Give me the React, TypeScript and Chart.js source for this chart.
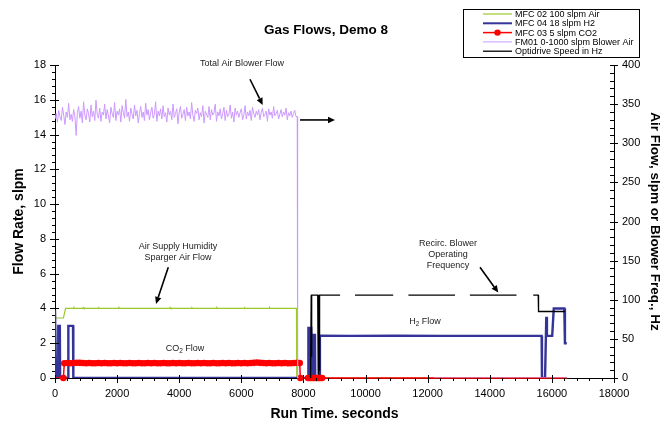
import React, { useEffect, useRef } from "react";
import { Chart, registerables } from "chart.js";

Chart.register(...registerables);

const FONT = "'Liberation Sans', Arial, Helvetica, sans-serif";

// ---------- axes ----------
const xMin = 0;
const xMax = 18000;
const xMajorStep = 2000;
const xMinorStep = 400;
const yLeftMin = 0;
const yLeftMax = 18;
const yLeftMajorStep = 2;
const yLeftMinorStep = 0.4;
const yRightMin = 0;
const yRightMax = 400;
const yRightMajorStep = 50;
const yRightMinorStep = 10;

const chartTitle = "Gas Flows, Demo 8";
const xTitle = "Run Time. seconds";
const yLeftTitle = "Flow Rate, slpm";
const yRightTitle = "Air Flow, slpm or Blower Freq., Hz";

const seriesNames = [
  "MFC 02 100 slpm Air",
  "MFC 04 18 slpm H2",
  "MFC 03 5 slpm CO2",
  "FM01 0-1000 slpm Blower Air",
  "Optidrive Speed in Hz",
];

// ---------- data (time in s, value) ----------
// MFC 02 air (left axis, slpm)
const airPoints: [number, number][] = [
  [0, 3.45], [270, 3.45], [340, 4.0], [600, 4.0], [610, 4.05], [630, 4.0],
  [900, 4.0], [910, 4.05], [930, 4.0], [1400, 4.0], [1410, 4.04], [1430, 4.0],
  [2050, 4.0], [2060, 4.05], [2080, 4.0], [2900, 4.0], [2910, 4.03], [2930, 4.0],
  [3700, 4.0], [3710, 4.05], [3730, 4.0], [4400, 4.0], [4410, 4.04], [4430, 4.0],
  [5200, 4.0], [5210, 4.05], [5230, 4.0], [6100, 4.0], [6110, 4.04], [6130, 4.0],
  [6900, 4.0], [6910, 4.05], [6930, 4.0], [7775, 4.0], [7785, 0], [16480, 0],
];

// MFC 04 H2 (left axis, slpm)
const h2Points: [number, number][] = [
  [0, 3.9], [25, 3.9], [35, 0], [100, 0], [105, 3.0], [155, 3.0], [165, 0],
  [420, 0], [430, 3.0], [580, 3.0], [590, 0], [8150, 0], [8160, 2.95],
  [8190, 0.2], [8200, 2.95], [8240, 0.1], [8250, 2.95], [8280, 0], [8310, 0],
  [8315, 2.47], [8370, 2.47], [8380, 0], [8520, 0], [8530, 2.43], [9500, 2.42],
  [11000, 2.43], [12500, 2.42], [14000, 2.42], [15670, 2.42], [15680, 0],
  [15780, 0], [15820, 3.52], [15840, 2.42], [16010, 2.42], [16060, 4.0],
  [16400, 4.0], [16420, 2.0], [16480, 2.0],
];

// MFC 03 CO2 (left axis, slpm)
const co2HeadPoints: [number, number][] = [[0, 0], [270, 0]];
const co2BandStart = 300;
const co2BandStep = 100;
const co2BandValues = [
  0.85, 0.86, 0.85, 0.86, 0.88, 0.87, 0.86, 0.85, 0.86, 0.85,
  0.85, 0.86, 0.85, 0.86, 0.85, 0.85, 0.86, 0.85, 0.86, 0.85,
  0.85, 0.86, 0.85, 0.85, 0.86, 0.85, 0.85, 0.86, 0.85, 0.86,
  0.85, 0.85, 0.86, 0.85, 0.85, 0.86, 0.85, 0.86, 0.85, 0.85,
  0.86, 0.85, 0.85, 0.86, 0.85, 0.86, 0.85, 0.85, 0.86, 0.85,
  0.85, 0.86, 0.85, 0.86, 0.85, 0.85, 0.86, 0.85, 0.86, 0.85,
  0.86, 0.87, 0.89, 0.87, 0.86, 0.85, 0.86, 0.85, 0.85, 0.86,
  0.85, 0.86, 0.85, 0.85, 0.86, 0.87,
];
const co2TailPoints: [number, number][] = [
  [7880, 0.86], [7900, 0], [8150, 0], [8200, 0], [8250, 0], [8300, 0],
  [8350, 0], [8400, 0], [8450, 0], [8500, 0], [8550, 0], [8600, 0],
  [9000, 0], [16480, 0],
];

// FM01 blower air (right axis, slpm), sampled every 40 s from 0 s
const blowerStart = 0;
const blowerStep = 40;
const blowerValues = [
  331, 338, 327, 342, 334, 329, 346, 336, 324, 340, 333, 351, 330, 337, 328,
  343, 335, 310, 339, 347, 332, 341, 326, 353, 336, 330, 344, 338, 327, 349,
  334, 341, 329, 355, 337, 332, 345, 328, 340, 336, 350, 331, 343, 335, 326,
  346, 338, 333, 352, 329, 341, 336, 344, 327, 348, 339, 332, 356, 334, 340,
  328, 345, 337, 331, 349, 335, 342, 326, 338, 347, 333, 340, 329, 351, 336,
  343, 330, 339, 346, 332, 337, 353, 328, 341, 335, 344, 331, 348, 334, 339,
  327, 345, 336, 341, 330, 350, 333, 338, 344, 325, 340, 347, 332, 337, 343,
  329, 346, 335, 340, 331, 352, 336, 328, 342, 338, 345, 330, 339, 334, 348,
  326, 341, 337, 333, 347, 330, 343, 336, 339, 350, 328, 340, 335, 344, 331,
  338, 346, 329, 342, 334, 337, 349, 332, 340, 327, 345, 336, 341, 333, 339,
  344, 330, 336, 348, 331, 340, 335, 342, 329, 346, 338, 333, 341, 336, 343,
  330, 339, 345, 334, 337, 341, 328, 344, 336, 340, 332, 347, 335, 338, 342,
  331, 337, 343, 334, 340, 336, 345, 330, 339, 335, 341, 333, 338, 342, 334,
];
const blowerTailPoints: [number, number | null][] = [
  [7800, 334], [7812, 0], [7840, 0], [7850, null], [12200, 0], [16480, 0],
];

// Optidrive speed (right axis, Hz)
const optidrivePoints: [number, number | null][] = [
  [8230, 0], [8250, 106], [8260, 27], [8270, 106], [8460, 106], [8475, 5],
  [8490, 106], [8505, 10], [8520, 106], [9180, 106], [9400, null],
  [9660, 106], [10890, 106], [11100, null], [11380, 106], [12880, 106],
  [13100, null], [13360, 106], [14860, 106], [15100, null], [15400, 106],
  [15560, 106], [15570, 85], [16420, 85],
];

// ---------- annotations (data coords on x / left axis) ----------
type Part = { t: string; sub?: boolean };
const annotationTexts: { parts: Part[][]; x: number; y: number }[] = [
  { parts: [[{ t: "Total Air Blower Flow" }]], x: 6021, y: 18.06 },
  { parts: [[{ t: "Air Supply Humidity" }], [{ t: "Sparger Air Flow" }]], x: 3961, y: 7.59 },
  { parts: [[{ t: "CO" }, { t: "2", sub: true }, { t: " Flow" }]], x: 4186, y: 1.67 },
  { parts: [[{ t: "Recirc. Blower" }], [{ t: "Operating" }], [{ t: "Frequency" }]], x: 12655, y: 7.75 },
  { parts: [[{ t: "H" }, { t: "2", sub: true }, { t: " Flow" }]], x: 11914, y: 3.24 },
];
const annotationArrows: { from: [number, number]; to: [number, number] }[] = [
  { from: [6279, 17.18], to: [6688, 15.7] },
  { from: [7889, 14.84], to: [9016, 14.84] },
  { from: [3648, 6.37], to: [3252, 4.26] },
  { from: [13685, 6.37], to: [14274, 4.91] },
];

const toXY = (pts: [number, number | null][]) => pts.map(([x, y]) => ({ x, y }));

function buildBlower() {
  const pts = blowerValues.map((v, i) => ({ x: blowerStart + i * blowerStep, y: v as number | null }));
  return pts.concat(toXY(blowerTailPoints));
}
function buildCo2() {
  const band = co2BandValues.map((v, i) => ({ x: co2BandStart + i * co2BandStep, y: v }));
  return toXY(co2HeadPoints).concat(band, toXY(co2TailPoints));
}

function drawParts(ctx: CanvasRenderingContext2D, parts: Part[], cx: number, cy: number) {
  const main = `9px ${FONT}`;
  const sub = `6.5px ${FONT}`;
  let w = 0;
  for (const p of parts) {
    ctx.font = p.sub ? sub : main;
    w += ctx.measureText(p.t).width;
  }
  let x = cx - w / 2;
  ctx.textAlign = "left";
  ctx.textBaseline = "middle";
  for (const p of parts) {
    ctx.font = p.sub ? sub : main;
    ctx.fillText(p.t, x, p.sub ? cy + 2.5 : cy);
    x += ctx.measureText(p.t).width;
  }
}

function drawArrow(ctx: CanvasRenderingContext2D, x1: number, y1: number, x2: number, y2: number) {
  const ang = Math.atan2(y2 - y1, x2 - x1);
  const head = 7;
  const half = 3.2;
  const bx = x2 - head * Math.cos(ang);
  const by = y2 - head * Math.sin(ang);
  ctx.beginPath();
  ctx.moveTo(x1, y1);
  ctx.lineTo(bx, by);
  ctx.stroke();
  ctx.beginPath();
  ctx.moveTo(x2, y2);
  ctx.lineTo(bx + half * Math.sin(ang), by - half * Math.cos(ang));
  ctx.lineTo(bx - half * Math.sin(ang), by + half * Math.cos(ang));
  ctx.closePath();
  ctx.fill();
}

const decorPlugin = {
  id: "decor",
  afterDatasetsDraw(chart: any) {
    const { ctx, chartArea: a, scales } = chart;
    const xs = scales.x;
    const yl = scales.y;
    const yr = scales.y1;
    ctx.save();
    ctx.strokeStyle = "#000";
    ctx.lineWidth = 1;
    const seg = (x1: number, y1: number, x2: number, y2: number) => {
      ctx.beginPath();
      ctx.moveTo(x1, y1);
      ctx.lineTo(x2, y2);
      ctx.stroke();
    };
    // bottom ticks
    const nx = Math.round((xMax - xMin) / xMinorStep);
    const xr = Math.round(xMajorStep / xMinorStep);
    for (let i = 0; i <= nx; i++) {
      const px = Math.round(xs.getPixelForValue(xMin + i * xMinorStep)) + 0.5;
      const major = i % xr === 0;
      seg(px, a.bottom - (major ? 3 : 0), px, a.bottom + (major ? 5 : 3));
    }
    // left ticks
    const nl = Math.round((yLeftMax - yLeftMin) / yLeftMinorStep);
    const lr = Math.round(yLeftMajorStep / yLeftMinorStep);
    for (let i = 0; i <= nl; i++) {
      const py = Math.round(yl.getPixelForValue(yLeftMin + i * yLeftMinorStep)) + 0.5;
      const major = i % lr === 0;
      seg(a.left - (major ? 5 : 3), py, a.left + (major ? 4 : 0), py);
    }
    // right ticks
    const nr = Math.round((yRightMax - yRightMin) / yRightMinorStep);
    const rr = Math.round(yRightMajorStep / yRightMinorStep);
    for (let i = 0; i <= nr; i++) {
      const py = Math.round(yr.getPixelForValue(yRightMin + i * yRightMinorStep)) + 0.5;
      const major = i % rr === 0;
      seg(a.right - 4, py, a.right + (major ? 4 : 0), py);
    }

    // annotations
    ctx.fillStyle = "#222";
    for (const an of annotationTexts) {
      const cx = xs.getPixelForValue(an.x);
      const cy = yl.getPixelForValue(an.y);
      an.parts.forEach((line, k) => drawParts(ctx, line, cx, cy + k * 11));
    }
    ctx.fillStyle = "#000";
    ctx.strokeStyle = "#000";
    ctx.lineWidth = 1.6;
    for (const ar of annotationArrows) {
      drawArrow(
        ctx,
        xs.getPixelForValue(ar.from[0]), yl.getPixelForValue(ar.from[1]),
        xs.getPixelForValue(ar.to[0]), yl.getPixelForValue(ar.to[1])
      );
    }

    // title
    ctx.fillStyle = "#000";
    ctx.font = `bold 13.5px ${FONT}`;
    ctx.textAlign = "center";
    ctx.textBaseline = "middle";
    ctx.fillText(chartTitle, 326, 30);

    // legend
    const lx = 463.5, ly = 9.5, lw = 176, lh = 48;
    ctx.fillStyle = "#fff";
    ctx.fillRect(lx, ly, lw, lh);
    ctx.lineWidth = 1;
    ctx.strokeStyle = "#000";
    ctx.strokeRect(lx, ly, lw, lh);
    chart.data.datasets.forEach((ds: any, i: number) => {
      const ry = 14 + i * 9.3;
      ctx.strokeStyle = ds.borderColor;
      ctx.lineWidth = Math.min(ds.borderWidth, 2);
      seg(483, ry, 512, ry);
      if (ds.legendMarker) {
        ctx.fillStyle = ds.borderColor;
        ctx.beginPath();
        ctx.arc(497.5, ry, 3.2, 0, Math.PI * 2);
        ctx.fill();
      }
      ctx.fillStyle = "#000";
      ctx.font = `9px ${FONT}`;
      ctx.textAlign = "left";
      ctx.textBaseline = "middle";
      ctx.fillText(ds.label, 515, ry + 0.5);
    });
    ctx.restore();
  },
};

export default function App() {
  const ref = useRef<HTMLCanvasElement | null>(null);
  useEffect(() => {
    document.body.style.margin = "0";
    const canvas = ref.current;
    if (!canvas) return;
    const tickFont = { family: FONT, size: 11 };
    const titleFont = { family: FONT, size: 14, weight: "bold" as const };
    const plain = (v: any) => String(v);
    const chart = new Chart(canvas, {
      type: "line",
      data: {
        datasets: [
          {
            label: seriesNames[0], data: toXY(airPoints), yAxisID: "y",
            borderColor: "#9BC82A", borderWidth: 1.2, pointRadius: 0, order: 5,
          },
          {
            label: seriesNames[1], data: toXY(h2Points), yAxisID: "y",
            borderColor: "#33339A", borderWidth: 2.4, pointRadius: 0, order: 4,
          },
          {
            label: seriesNames[2], data: buildCo2(), yAxisID: "y",
            borderColor: "#FF0000", borderWidth: 1.5, order: 3, clip: false,
            pointRadius: (c: any) => (c.raw && c.raw.x >= 250 && c.raw.x <= 8700 ? 3.3 : 0),
            pointBackgroundColor: "#FF0000", pointBorderWidth: 0, pointHoverRadius: 0,
            legendMarker: true,
          } as any,
          {
            label: seriesNames[3], data: buildBlower(), yAxisID: "y1",
            borderColor: "#CC99FF", borderWidth: 1, pointRadius: 0, order: 2,
          },
          {
            label: seriesNames[4], data: toXY(optidrivePoints), yAxisID: "y1",
            borderColor: "#000000", borderWidth: 1.3, pointRadius: 0, order: 1, spanGaps: false,
          },
        ],
      },
      options: {
        responsive: false,
        animation: false,
        devicePixelRatio: 1,
        events: [],
        layout: { padding: { top: 65, left: 0, right: 0, bottom: 0 } },
        plugins: {
          legend: { display: false },
          title: { display: false },
          tooltip: { enabled: false },
        },
        scales: {
          x: {
            type: "linear", position: "bottom", min: xMin, max: xMax,
            ticks: { stepSize: xMajorStep, font: tickFont, color: "#000", padding: 9, maxRotation: 0, autoSkip: false, callback: plain },
            grid: { display: true, drawOnChartArea: false, drawTicks: false },
            border: { display: true, color: "#000", width: 1 },
            title: { display: true, text: xTitle, font: titleFont, color: "#000", padding: { top: 0, bottom: -2 } },
            afterFit: (s: any) => { s.height = 43; },
          },
          y: {
            type: "linear", position: "left", min: yLeftMin, max: yLeftMax,
            ticks: { stepSize: yLeftMajorStep, font: tickFont, color: "#000", padding: 9, callback: plain },
            grid: { display: true, drawOnChartArea: false, drawTicks: false },
            border: { display: true, color: "#000", width: 1 },
            title: { display: true, text: yLeftTitle, font: titleFont, color: "#000", padding: { top: 11, bottom: 0 } },
            afterFit: (s: any) => { s.width = 55; },
          },
          y1: {
            type: "linear", position: "right", min: yRightMin, max: yRightMax,
            ticks: { stepSize: yRightMajorStep, font: tickFont, color: "#000", padding: 8, callback: plain },
            grid: { display: true, drawOnChartArea: false, drawTicks: false },
            border: { display: true, color: "#000", width: 1 },
            title: { display: true, text: yRightTitle, font: { family: FONT, size: 13.5, weight: "bold" as const }, color: "#000", padding: { top: 0, bottom: 0 } },
            afterFit: (s: any) => { s.width = 49; },
          },
        },
      },
      plugins: [decorPlugin],
    });
    return () => chart.destroy();
  }, []);
  return (
    <div style={{ width: 663, height: 421, background: "#fff" }}>
      <canvas ref={ref} width={663} height={421} style={{ display: "block" }} />
    </div>
  );
}
